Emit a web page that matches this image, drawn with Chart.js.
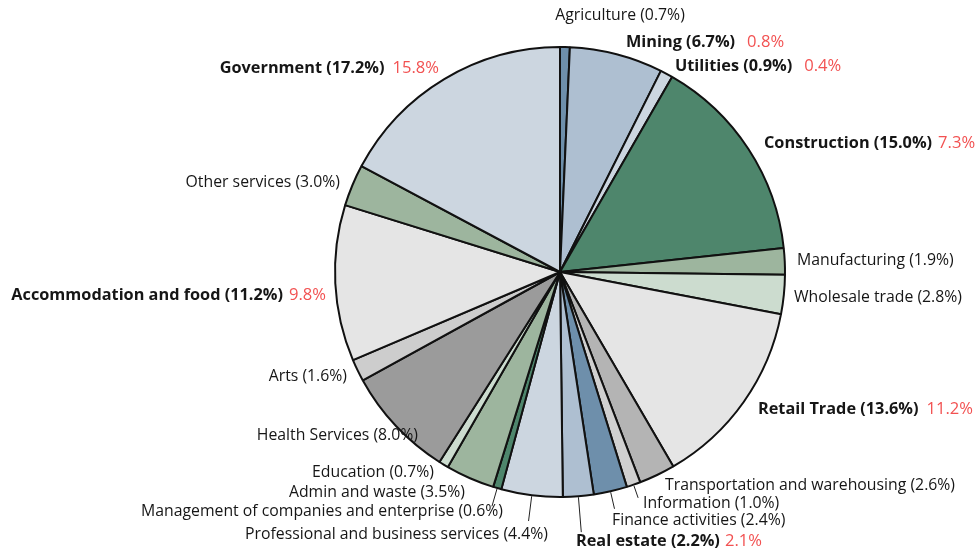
<!DOCTYPE html>
<html>
<head>
<meta charset="utf-8">
<script src="https://cdn.jsdelivr.net/npm/chart.js@4.4.1/dist/chart.umd.min.js"></script>
<style>
  html, body { margin: 0; padding: 0; background: #fff; }
  #wrap { width: 977px; height: 552px; }
</style>
</head>
<body>
<div id="wrap"><canvas id="pie"></canvas></div>
<script>
const sectors = [
  "Agriculture", "Mining", "Utilities", "Construction", "Manufacturing",
  "Wholesale trade", "Retail Trade", "Transportation and warehousing",
  "Information", "Finance activities", "Real estate",
  "Professional and business services",
  "Management of companies and enterprise", "Admin and waste", "Education",
  "Health Services", "Arts", "Accommodation and food", "Other services",
  "Government"
];
const shares = [0.7, 6.7, 0.9, 15.0, 1.9, 2.8, 13.6, 2.6, 1.0, 2.4, 2.2, 4.4,
                0.6, 3.5, 0.7, 8.0, 1.6, 11.2, 3.0, 17.2];
// second figure shown in red next to some labels (null = none)
const redValues = [null, "0.8%", "0.4%", "7.3%", null, null, "11.2%", null,
                   null, null, "2.1%", null, null, null, null, null, null,
                   "9.8%", null, "15.8%"];

const colors = [
  "#6e8fab", "#aebfd1", "#ccd6e0", "#4e866c", "#9db59e", "#ccdccf", "#e5e5e5",
  "#b4b4b4", "#d0d0d0", "#6e8fab", "#aebfd1", "#ccd6e0", "#4e866c", "#9db59e",
  "#ccdccf", "#9b9b9b", "#cdcdcd", "#e5e5e5", "#9db59e", "#ccd6e0"
];

// label placement: x anchor, y middle, align, gap before red value, leader length
const labelPos = [
  { x: 620, y: 15, align: "center" },
  { x: 626, y: 42, align: "left", gap: 12 },
  { x: 675, y: 66, align: "left", gap: 12 },
  { x: 764, y: 143, align: "left", gap: 6 },
  { x: 797, y: 260, align: "left" },
  { x: 794, y: 297, align: "left" },
  { x: 758, y: 409, align: "left", gap: 8 },
  { x: 665, y: 485, align: "left" },
  { x: 643, y: 503, align: "left", leader: 14 },
  { x: 612, y: 520, align: "left", leader: 18 },
  { x: 576, y: 541, align: "left", gap: 5, leader: 36 },
  { x: 548, y: 534, align: "right", leader: 26 },
  { x: 503, y: 511, align: "right", leader: 19 },
  { x: 465, y: 492, align: "right" },
  { x: 434, y: 472, align: "right" },
  { x: 418, y: 435, align: "right" },
  { x: 347, y: 376, align: "right" },
  { x: 326, y: 295, align: "right", gap: 6 },
  { x: 340, y: 182, align: "right" },
  { x: 439, y: 68, align: "right", gap: 8 }
];

const FONT = '"Open Sans", sans-serif';
const SIZE = 15.8;
const BOLD_SIZE = 16.3;
const RED_SIZE = 16.6;

const sectorLabels = {
  id: "sectorLabels",
  afterDatasetsDraw(chart) {
    const ctx = chart.ctx;
    const arcs = chart.getDatasetMeta(0).data;
    ctx.save();
    ctx.textBaseline = "middle";
    arcs.forEach((arc, i) => {
      const p = labelPos[i];
      const mid = (arc.startAngle + arc.endAngle) / 2;
      if (p.leader) {
        const r0 = arc.outerRadius + 1;
        const r1 = arc.outerRadius + p.leader;
        ctx.beginPath();
        ctx.strokeStyle = "#222";
        ctx.lineWidth = 1;
        ctx.moveTo(arc.x + Math.cos(mid) * r0, arc.y + Math.sin(mid) * r0);
        ctx.lineTo(arc.x + Math.cos(mid) * r1, arc.y + Math.sin(mid) * r1);
        ctx.stroke();
      }
      const main = sectors[i] + " (" + shares[i].toFixed(1) + "%)";
      const red = redValues[i];
      const bold = red !== null;
      const mainFont = bold ? "bold " + BOLD_SIZE + "px " + FONT : SIZE + "px " + FONT;
      const redFont = RED_SIZE + "px " + FONT;
      ctx.font = mainFont;
      const wMain = ctx.measureText(main).width;
      let wRed = 0;
      if (bold) {
        ctx.font = redFont;
        wRed = ctx.measureText(red).width + p.gap;
      }
      let left;
      if (p.align === "center") left = p.x - (wMain + wRed) / 2;
      else if (p.align === "right") left = p.x - wMain - wRed;
      else left = p.x;
      ctx.textAlign = "left";
      ctx.font = mainFont;
      ctx.fillStyle = "#161616";
      ctx.fillText(main, left, p.y);
      if (bold) {
        ctx.font = redFont;
        ctx.fillStyle = "#f25252";
        ctx.fillText(red, left + wMain + p.gap, p.y);
      }
    });
    ctx.restore();
  }
};

new Chart(document.getElementById("pie"), {
  type: "pie",
  data: {
    labels: sectors,
    datasets: [{
      data: shares,
      backgroundColor: colors,
      borderColor: "#111",
      borderWidth: 2
    }]
  },
  options: {
    responsive: true,
    maintainAspectRatio: false,
    animation: false,
    layout: { padding: { left: 334, right: 191, top: 46, bottom: 54 } },
    plugins: {
      legend: { display: false },
      tooltip: { enabled: false }
    }
  },
  plugins: [sectorLabels]
});
</script>
</body>
</html>
